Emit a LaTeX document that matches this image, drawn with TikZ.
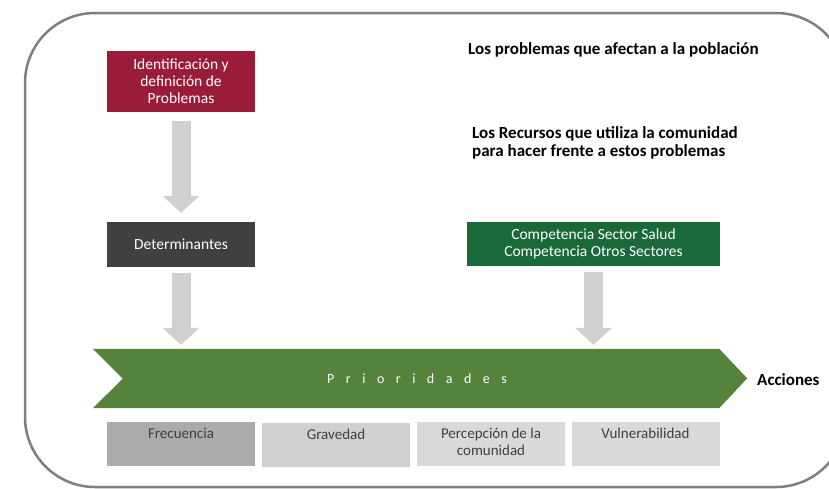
\documentclass[tikz,border=0pt]{standalone}
\usepackage{fontspec}
\setmainfont{Carlito}
\usepackage{tikz}
\usetikzlibrary{arrows.meta}
\usetikzlibrary{backgrounds}

\definecolor{guinda}{HTML}{9A1C38}
\definecolor{oscuro}{HTML}{404040}
\definecolor{verdeosc}{HTML}{19693A}
\definecolor{verdeprio}{HTML}{55833C}
\definecolor{flecha}{HTML}{D0D0D0}
\definecolor{borde}{HTML}{7F7F7F}

\begin{document}
\begin{tikzpicture}[x=1pt, y=-1pt,
  box/.style={minimum width=148pt, inner sep=0pt, text=white, align=center,
    font=\fontsize{15.5}{17}\selectfont},
  catbox/.style={minimum width=148pt, minimum height=44pt, inner sep=0pt},
  cattext/.style={anchor=north, inner sep=0pt, align=center, text=black!75,
    font=\fontsize{15}{17}\selectfont},
  note/.style={anchor=west, inner sep=0pt, align=left,
    font=\bfseries\fontsize{17}{18}\selectfont},
  paths/.style={line width=19pt, draw=flecha,
    -{Triangle[width=36pt, length=17pt]}}]

 \useasboundingbox (0,0) rectangle (829,488);
 \clip (0,0) rectangle (829,488);

 % marco
 \draw [borde, line width=2.5pt, rounded corners=70pt] (25,13) rectangle (846,487);


 \node [box, fill=guinda, minimum height=61pt] (box_problemas) at (181,81.5)
     {Identificación y\\definición de\\Problemas};

 \node [box, fill=oscuro, minimum height=45pt] (box_determinantes) at (181,244.5)
     {Determinantes};

 \node [box, fill=verdeosc, minimum width=253pt, minimum height=44pt]
     (box_competencia) at (593.5,244)
     {Competencia Sector Salud\\Competencia Otros Sectores};

 \node [note] (txt_problemas) at (468,50)
     {Los problemas que afectan a la población};

 \node [note] (txt_recursos) at (472,143)
     {Los Recursos que utiliza la comunidad\\para hacer frente a estos problemas};


 \node [minimum width=626pt, minimum height=59pt, inner sep=0pt]
     (prioridades) at (406,378.5) {};
 \node [text=white, font=\fontsize{14}{16}\selectfont] (txt_prioridades) at (417,378.5)
     {P\hspace{11.5pt}r\hspace{11.5pt}i\hspace{11.5pt}o\hspace{11.5pt}r\hspace{11.5pt}i\hspace{11.5pt}d\hspace{11.5pt}a\hspace{11.5pt}d\hspace{11.5pt}e\hspace{11.5pt}s};
 \begin{scope}[on background layer]
 \fill [verdeprio] (prioridades.north west) -- (prioridades.north east)
     -- ++(28,29.5) -- (prioridades.south east) -- (prioridades.south west)
     -- ++(30,-29.5) -- cycle;
 \end{scope}

 \node [anchor=west, inner sep=0pt, font=\bfseries\fontsize{17}{18}\selectfont]
     (acciones) at (757,380) {Acciones};


 \node [catbox, fill=black!33] (frecuencia) at (181,444) {};
 \node [catbox, fill=flecha] (gravedad) at (336,445) {};
 \node [catbox, fill=black!15] (percepcion) at (491,444) {};
 \node [catbox, fill=black!15] (vulnerabilidad) at (645.5,444) {};

 \node [cattext] at ([yshift=-6pt]frecuencia.north) {Frecuencia};
 \node [cattext] at ([yshift=-6pt]gravedad.north) {Gravedad};
 \node [cattext] at ([yshift=-6pt]percepcion.north) {Percepción de la\\comunidad};
 \node [cattext] at ([yshift=-6pt]vulnerabilidad.north) {Vulnerabilidad};


 \draw [paths, shorten <=9pt, shorten >=9pt] (box_problemas) -- (box_determinantes);
 \draw [paths, shorten <=6pt, shorten >=4pt] (box_determinantes.south)
     -- (box_determinantes.south |- prioridades.north);
 \draw [paths, shorten <=6pt, shorten >=4pt] (box_competencia.south)
     -- (box_competencia.south |- prioridades.north);


\end{tikzpicture}
\end{document}
